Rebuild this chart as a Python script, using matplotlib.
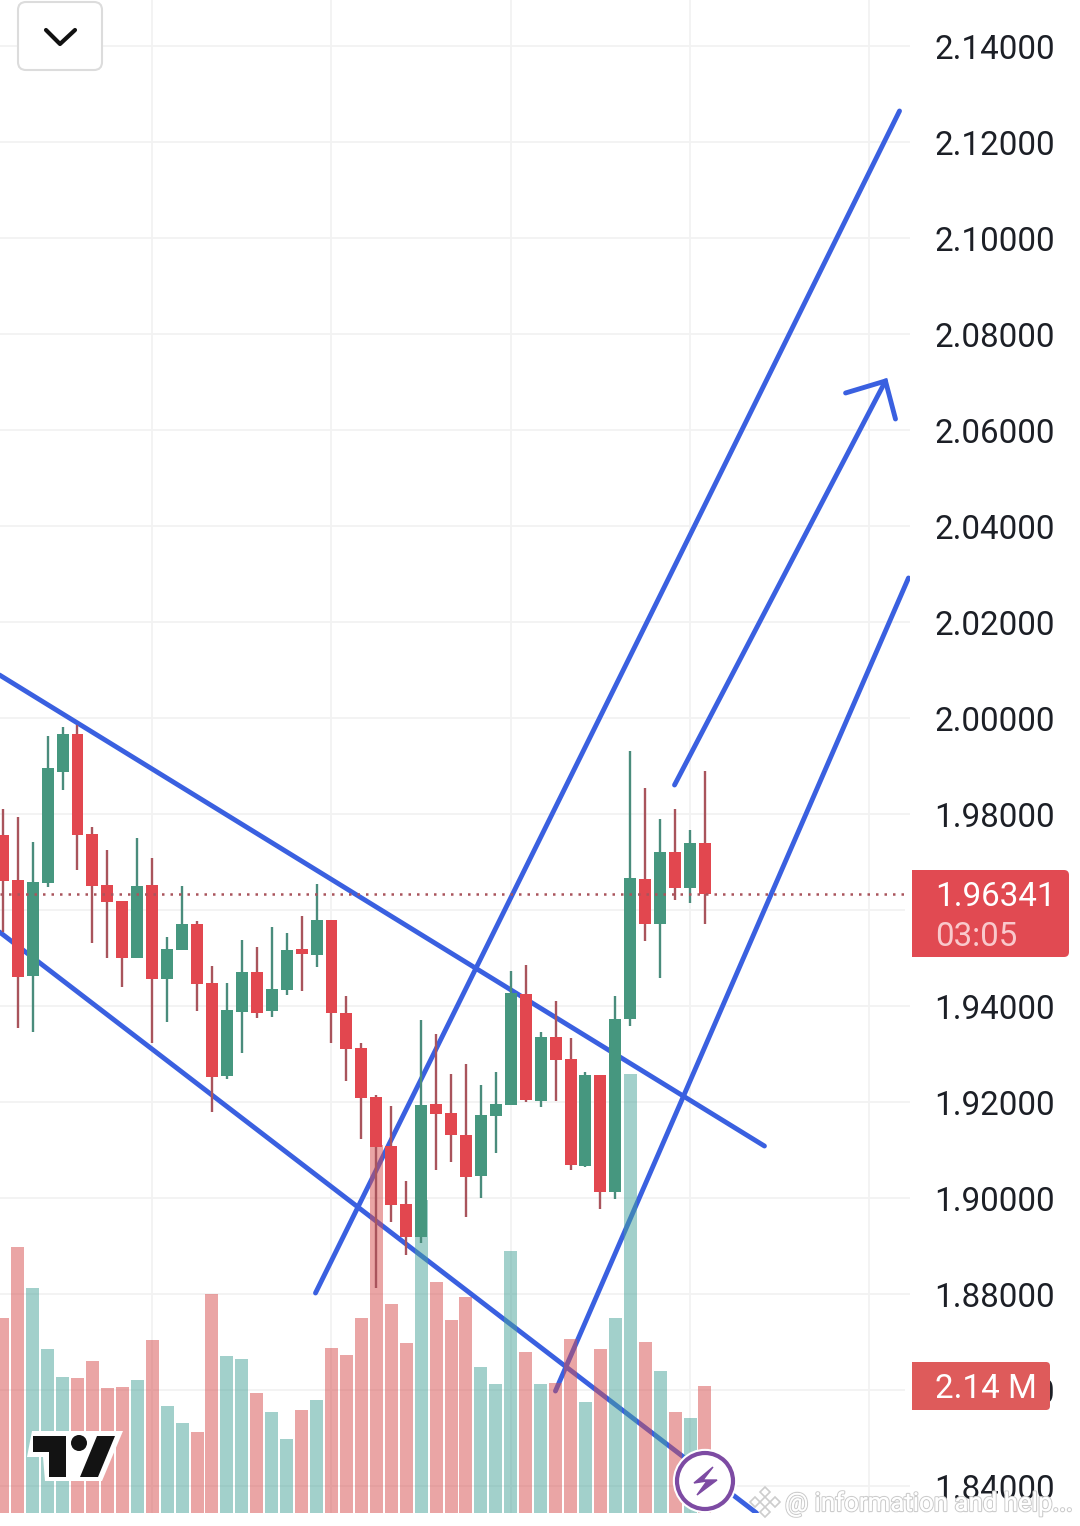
import matplotlib
matplotlib.use("Agg")
import matplotlib.pyplot as plt
import matplotlib.patheffects as pe
from matplotlib.patches import FancyBboxPatch, Polygon, Circle, Rectangle
import numpy as np

plt.rcParams['font.family'] = ['Roboto', 'DejaVu Sans']

# candles, one per bar
opens = [1.9756, 1.9663, 1.9463, 1.9656, 1.9888, 1.9967, 1.9758, 1.9652, 1.9619, 1.9500, 1.9652, 1.9456,
         1.9517, 1.9571, 1.9448, 1.9254, 1.9388, 1.9471, 1.9390, 1.9433, 1.9519, 1.9506, 1.9579, 1.9385,
         1.9313, 1.9210, 1.9108, 1.8988, 1.8919, 1.9196, 1.9177, 1.9131, 1.9046, 1.9171, 1.9194, 1.9425,
         1.9202, 1.9335, 1.9290, 1.9067, 1.9256, 1.9013, 1.9373, 1.9665, 1.9571, 1.9721, 1.9646, 1.9740]
closes = [1.9660, 1.9460, 1.9658, 1.9896, 1.9967, 1.9756, 1.9650, 1.9617, 1.9500, 1.9650, 1.9456, 1.9519,
          1.9571, 1.9446, 1.9252, 1.9392, 1.9471, 1.9385, 1.9435, 1.9517, 1.9508, 1.9579, 1.9385, 1.9310,
          1.9208, 1.9106, 1.8985, 1.8919, 1.9194, 1.9175, 1.9131, 1.9044, 1.9173, 1.9196, 1.9427, 1.9204,
          1.9335, 1.9288, 1.9069, 1.9256, 1.9013, 1.9373, 1.9667, 1.9571, 1.9721, 1.9646, 1.9740, 1.96341]
highs = [1.9810, 1.9794, 1.9742, 1.9963, 1.9981, 1.9985, 1.9773, 1.9725, 1.9619, 1.9750, 1.9708, 1.9544,
         1.9650, 1.9577, 1.9483, 1.9448, 1.9538, 1.9523, 1.9565, 1.9552, 1.9588, 1.9654, 1.9579, 1.9421,
         1.9323, 1.9215, 1.9192, 1.9035, 1.9371, 1.9342, 1.9258, 1.9279, 1.9235, 1.9263, 1.9473, 1.9485,
         1.9346, 1.9410, 1.9333, 1.9263, 1.9256, 1.9421, 1.9931, 1.9854, 1.9790, 1.9810, 1.9767, 1.9890]
lows = [1.9554, 1.9354, 1.9346, 1.9648, 1.9850, 1.9683, 1.9531, 1.9500, 1.9440, 1.9500, 1.9323, 1.9367,
        1.9517, 1.9390, 1.9179, 1.9248, 1.9302, 1.9375, 1.9377, 1.9423, 1.9431, 1.9481, 1.9323, 1.9244,
        1.9123, 1.8813, 1.8950, 1.8881, 1.8906, 1.9058, 1.9075, 1.8960, 1.9000, 1.9094, 1.9194, 1.9200,
        1.9190, 1.9202, 1.9058, 1.9065, 1.8977, 1.8998, 1.9358, 1.9535, 1.9458, 1.9621, 1.9615, 1.9571]
# volume in millions
volumes = [3.29, 4.49, 3.79, 2.76, 2.29, 2.27, 2.57, 2.10, 2.12, 2.25, 2.91, 1.80,
           1.51, 1.36, 3.69, 2.64, 2.59, 2.02, 1.70, 1.24, 1.73, 1.90, 2.79, 2.66,
           3.28, 6.20, 3.52, 2.86, 5.28, 3.90, 3.26, 3.65, 2.47, 2.17, 4.41, 2.71,
           2.17, 2.19, 2.93, 1.88, 2.76, 3.28, 7.40, 2.89, 2.39, 1.70, 1.60, 2.14]

price_ticks = [2.14, 2.12, 2.10, 2.08, 2.06, 2.04, 2.02, 2.00, 1.98, 1.96, 1.94, 1.92, 1.90, 1.88, 1.86, 1.84]
time_grid = [10, 22, 34, 46, 58]
last_price = 1.96341

# hand drawn lines: (bar, price) start and end
line_upper = [(-0.22, 2.00896), (50.98, 1.91083)]
line_lower = [(-0.22, 1.95542), (50.45, 1.83437)]
line_rise1 = [(20.93, 1.88021), (60.02, 2.12646)]
line_rise2 = [(36.99, 1.85979), (60.62, 2.02917)]
arrow_shaft = [(44.96, 1.98604), (59.08, 2.07021)]
arrow_head = [(56.41, 2.06771), (59.08, 2.07021), (59.75, 2.06229)]

RED = '#e2474f'
GREEN = '#46977f'
RED_WICK = '#a9545c'
GREEN_WICK = '#4a8c7c'
BLUE = '#3a60e0'
GRID = '#f2f2f2'

bars = np.arange(len(opens))
up = np.array(closes) >= np.array(opens)

fig = plt.figure(figsize=(10.8, 15.26), dpi=100, facecolor='white')
xlim = (-0.187, 72.10)
ylim = (2.14958, 1.83167)


def new_axes(z):
    a = fig.add_axes([0, 0, 1, 1], zorder=z)
    a.set_facecolor('none')
    a.axis('off')
    return a


ax = new_axes(0)
ax.set_xlim(xlim)
ax.set_ylim(ylim[1], ylim[0])
for p in price_ticks:
    ax.axhline(p, color=GRID, lw=1.3, zorder=1)
for b in time_grid:
    ax.axvline(b, ymin=13 / 1526, color=GRID, lw=1.3, zorder=1)
for ln in [line_upper, line_lower, line_rise1, line_rise2, arrow_shaft, arrow_head]:
    xs, ys = zip(*ln)
    ax.plot(xs, ys, color=BLUE, lw=3.5, solid_capstyle='round', solid_joinstyle='miter', zorder=3)

ax_vol = new_axes(1)
ax_vol.set_xlim(xlim)
ax_vol.set_ylim(-13 / 59.3, 1513 / 59.3)
vol_colors = [(71 / 255, 163 / 255, 153 / 255, 0.5) if u else (215 / 255, 77 / 255, 77 / 255, 0.5) for u in up]
ax_vol.bar(bars, volumes, width=0.87, color=vol_colors, linewidth=0)

ax_c = new_axes(2)
ax_c.set_xlim(xlim)
ax_c.set_ylim(ylim[1], ylim[0])
ax_c.vlines(bars, lows, highs, colors=[GREEN_WICK if u else RED_WICK for u in up], lw=1.7, zorder=2)
ax_c.bar(bars, np.abs(np.array(closes) - np.array(opens)), bottom=np.minimum(opens, closes), width=0.8,
         color=[GREEN if u else RED for u in up], linewidth=0, zorder=3)
ax_c.plot([xlim[0], 60.9], [last_price, last_price], color=RED_WICK, lw=1.8, zorder=4,
          linestyle=(0, (1, 2.4)))

# everything that isn't chart: price scale, tags, logo, button. Pixel coordinates
ui = new_axes(3)
ui.set_xlim(0, 1080)
ui.set_ylim(1526, 0)
ui.add_patch(Rectangle((910, 0), 170, 1526, color='white', lw=0, zorder=1))
ui.add_patch(Rectangle((0, 1513), 1080, 13, color='white', lw=0, zorder=1))
for p in price_ticks:
    if p == 1.96:  # sits fully under the price tag
        continue
    py = 814 + (1.98 - p) * 4800
    ui.text(1055, py + 0.5, '%.5f' % p, ha='right', va='center_baseline', fontsize=23.9, color='#1c1f26', zorder=2)

ui.add_patch(FancyBboxPatch((908, 870), 161, 87, boxstyle='round,pad=0,rounding_size=5',
                            fc='#e14a52', ec='none', zorder=3))
ui.add_patch(Rectangle((912, 870), 10, 87, fc='#e14a52', ec='none', zorder=3))
ui.add_patch(Rectangle((905, 860), 7, 105, fc='white', ec='none', zorder=3))
ui.text(935, 894, '%.5f' % last_price, ha='left', va='center_baseline', fontsize=23.9, color='white', zorder=4)
ui.text(935, 933, '03:05', ha='left', va='center_baseline', fontsize=23.9, color='#f9c9cc', zorder=4)

ui.add_patch(FancyBboxPatch((908, 1362), 142, 48, boxstyle='round,pad=0,rounding_size=4',
                            fc='#de5b5b', ec='none', zorder=3))
ui.add_patch(Rectangle((905, 1355), 7, 60, fc='white', ec='none', zorder=3))
ui.text(935, 1386, '2.14 M', ha='left', va='center_baseline', fontsize=23.9, color='white', zorder=4)

# dropdown button
ui.add_patch(FancyBboxPatch((18, 2), 84, 68, boxstyle='round,pad=0,rounding_size=8',
                            fc='white', ec='#dcdcdc', lw=1.5, zorder=3))
ui.plot([46, 60, 75], [30, 44, 30], color='#111111', lw=3, solid_capstyle='round', zorder=4)

# TradingView logo
ui.add_patch(Polygon([(27, 1457), (32, 1431), (123, 1431), (102, 1481), (45, 1481), (43, 1457)],
                     fc='white', ec='none', zorder=3))
ui.add_patch(Polygon([(33, 1436), (66, 1436), (66, 1477), (49, 1477), (49, 1452), (33, 1452)],
                     fc='#131313', ec='none', zorder=4))
ui.add_patch(Polygon([(97, 1436), (115, 1436), (98, 1477), (80, 1477)], fc='#131313', ec='none', zorder=4))
ui.add_patch(Circle((79, 1443), 8, fc='#131313', ec='none', zorder=4))

# lightning badge
ui.add_patch(Circle((705, 1481), 28, fc='white', ec='#7d4ba3', lw=3, zorder=3,
                    path_effects=[pe.withStroke(linewidth=6, foreground='white')]))
ui.add_patch(Polygon([(713, 1467), (694, 1483), (707, 1481), (697, 1495), (717, 1480), (703, 1480)],
                     fc='#7d4ba3', ec='#7d4ba3', lw=1, zorder=4))

# watermark
halo = [pe.withStroke(linewidth=1.7, foreground='#cdcdcd'), pe.Normal()]
ui.text(785, 1501, '@ information and help...', ha='left', va='center_baseline', fontsize=18.6, color='white',
        path_effects=halo, zorder=5)
for dx, dy in [(0, -10), (-10, 0), (10, 0), (0, 10), (0, 0)]:
    ui.plot(765 + dx, 1502 + dy, marker='D', ms=5, mfc='white', mec='#cdcdcd', mew=1.2, zorder=5)

fig.savefig('out.png', dpi=100)
